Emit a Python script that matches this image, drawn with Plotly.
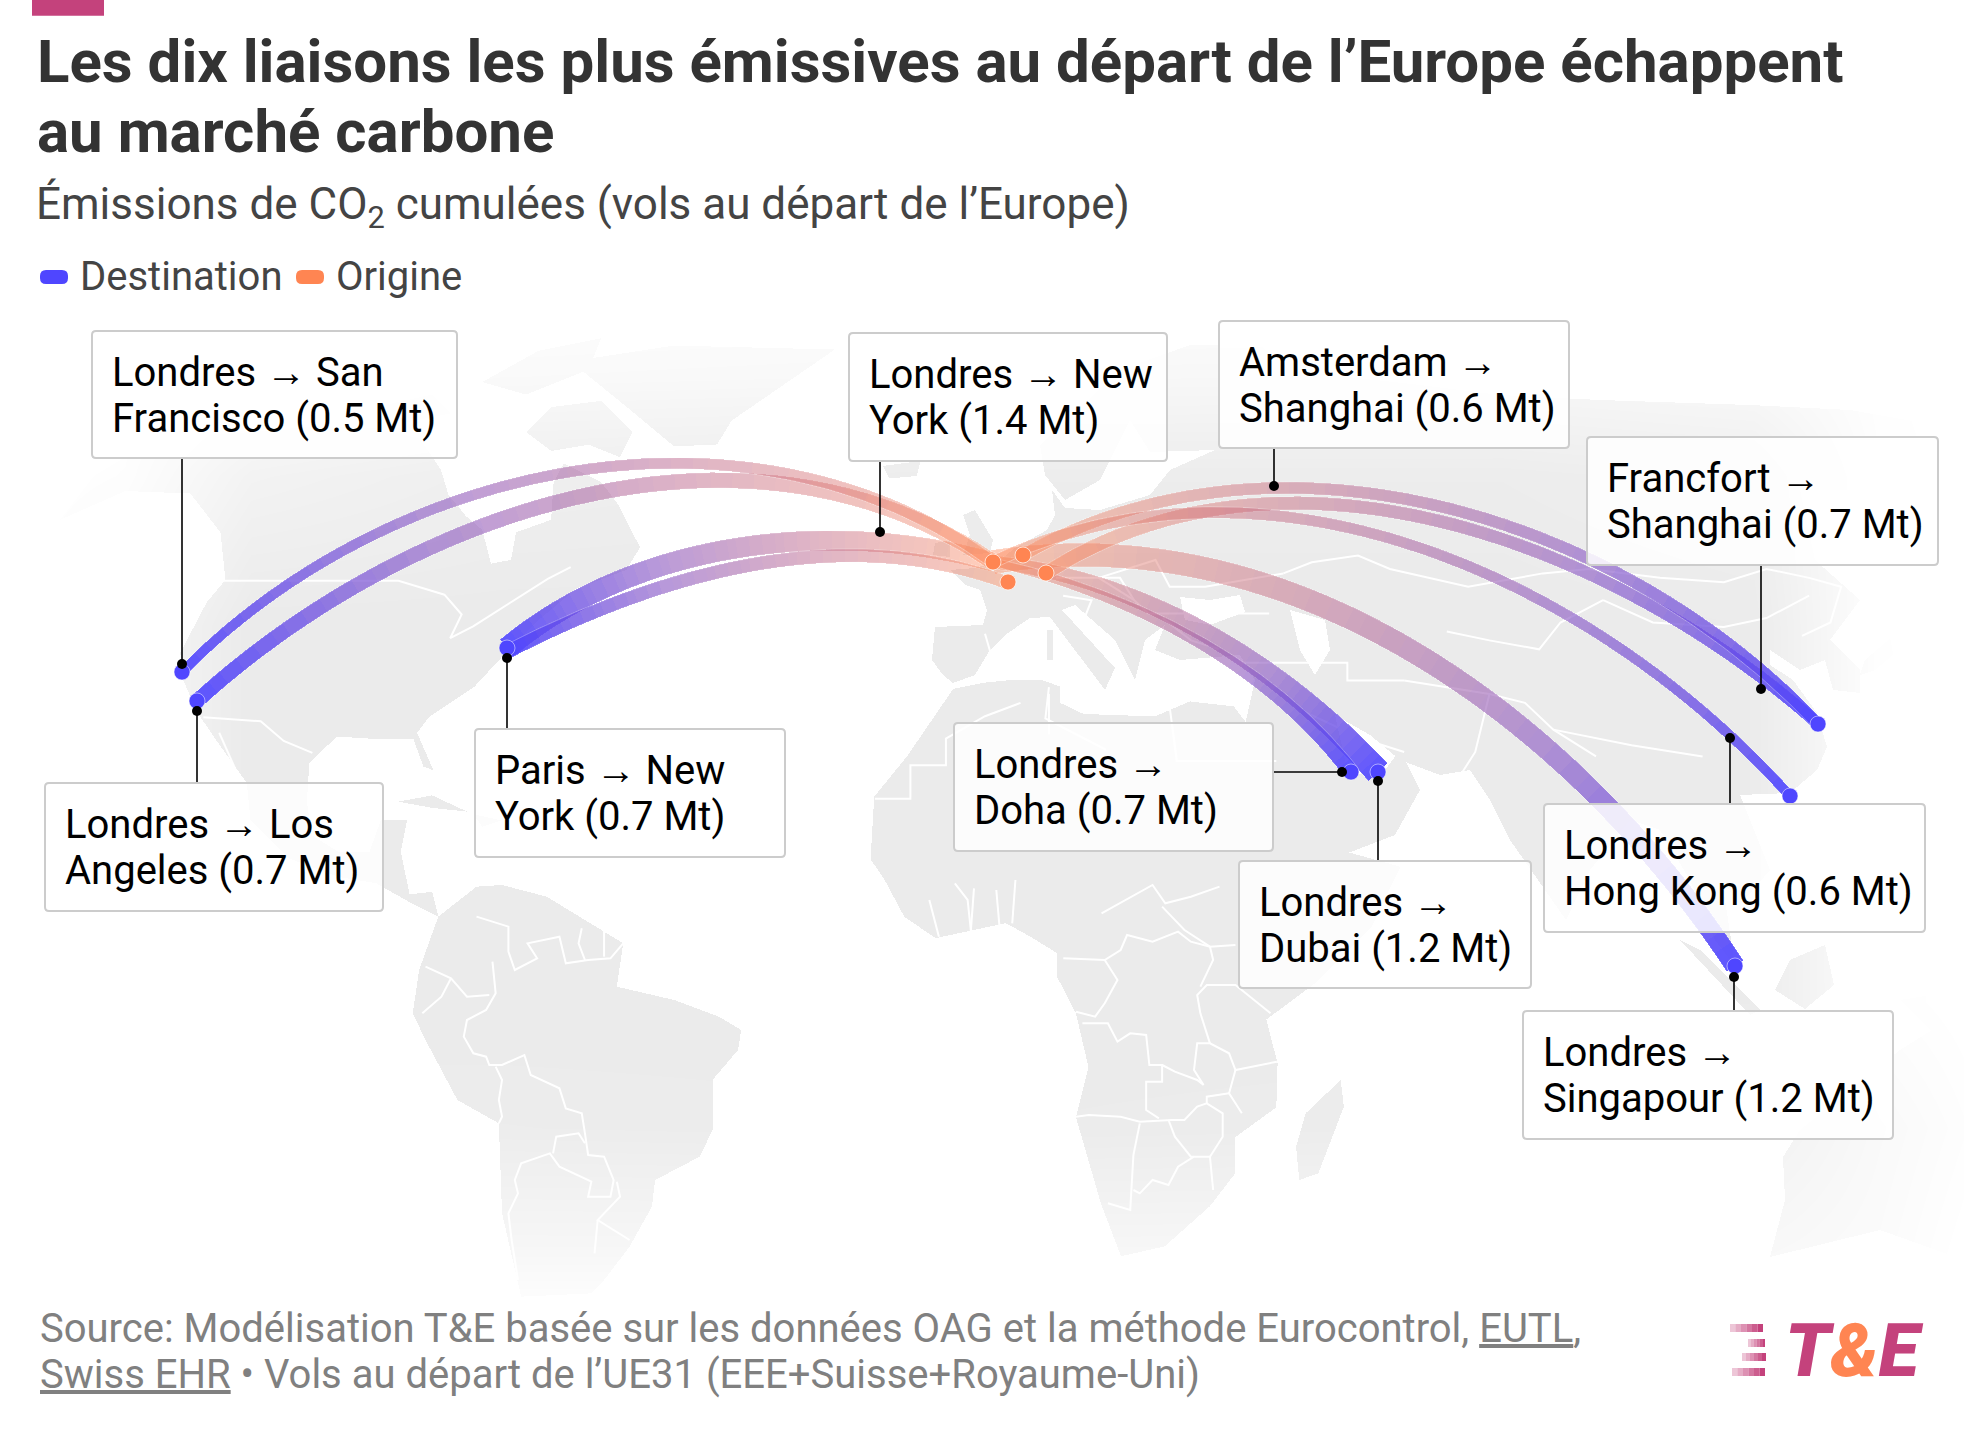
import numpy as np
import plotly.graph_objects as go

W, H = 1964, 1442
S = W / 1568.0

# ---------- data: routes (label lines, value in Mt, waypoints) ----------
route_names = ["Londres → Singapour", "Londres → Dubai", "Londres → New York", "Paris → New York",
               "Londres → Los Angeles", "Londres → Doha", "Francfort → Shanghai",
               "Amsterdam → Shanghai", "Londres → Hong Kong", "Londres → San Francisco"]
route_values = [1.2, 1.2, 1.4, 0.7, 0.7, 0.7, 0.7, 0.6, 0.6, 0.5]
path_singapour = [(993,562),(1060,553),(1113,555),(1205,571),(1305,600),(1397,640),(1489,698),(1596,801),(1735,966)]
path_dubai = [(993,562),(1063,574),(1113,590),(1213,638),(1313,708),(1378,772)]
path_new_york = [(993,562),(940,548),(877,541),(752,549),(626,578),(559,608),(507,648)]
path_paris_ny = [(1008,583),(940,566),(875,556),(752,562),(674,585),(559,628),(507,652)]
path_la = [(993,562),(932,523),(817,490),(703,482),(617,486),(502,520),(387,571),(272,638),(197,701)]
path_doha = [(993,562),(1063,580),(1113,600),(1213,653),(1313,725),(1351,772)]
path_fr_shanghai = [(1046,573),(1099,538),(1170,515),(1298,505),(1418,520),(1525,547),(1631,591),(1738,663),(1818,724)]
path_am_shanghai = [(1023,555),(1099,520),(1170,497),(1274,486),(1383,497),(1489,524),(1596,562),(1703,622),(1766,672),(1818,724)]
path_hk = [(993,562),(1063,532),(1134,520),(1219,514),(1347,524),(1454,560),(1560,614),(1667,680),(1730,738),(1790,796)]
path_sf = [(993,562),(914,520),(814,476),(701,463),(626,466),(501,488),(376,532),(250,614),(182,672)]
route_paths = [path_singapour, path_dubai, path_new_york, path_paris_ny, path_la, path_doha,
               path_fr_shanghai, path_am_shanghai, path_hk, path_sf]

origin_names = ["Londres", "Amsterdam", "Paris", "Francfort"]
origin_x = [993, 1023, 1008, 1046]
origin_y = [562, 555, 582, 573]
dest_names = ["San Francisco", "Los Angeles", "New York", "Doha", "Dubai", "Singapour", "Hong Kong", "Shanghai"]
dest_x = [182, 197, 507, 1351, 1378, 1735, 1790, 1818]
dest_y = [672, 701, 648, 772, 772, 966, 796, 724]

# ---------- label boxes (x0,y0,x1,y1), text lines, connector ends ----------
label_lines = [["Londres → San", "Francisco (0.5 Mt)"], ["Londres → Los", "Angeles (0.7 Mt)"],
               ["Paris → New", "York (0.7 Mt)"], ["Londres → New", "York (1.4 Mt)"],
               ["Amsterdam →", "Shanghai (0.6 Mt)"], ["Francfort →", "Shanghai (0.7 Mt)"],
               ["Londres →", "Doha (0.7 Mt)"], ["Londres →", "Dubai (1.2 Mt)"],
               ["Londres →", "Hong Kong (0.6 Mt)"], ["Londres →", "Singapour (1.2 Mt)"]]
label_boxes = [(92,331,457,458), (45,783,383,911), (475,729,785,857), (849,333,1167,461),
               (1219,321,1569,448), (1587,437,1938,565), (954,723,1273,851), (1239,861,1531,988),
               (1544,804,1925,932), (1523,1011,1893,1139)]
conn_start = [(182,458),(197,783),(507,729),(880,461),(1274,448),(1761,565),(1273,772),(1378,861),(1730,804),(1734,1011)]
conn_end = [(182,664),(197,711),(507,658),(880,532),(1274,486),(1761,689),(1342,772),(1378,781),(1730,738),(1734,977)]

# ---------- land, in picture-frame coordinates ----------
def D(p): return [(x*S, y*S) for x, y in p]                       # display frame
def Z2(p): return [(100+x/1.742, 310+y/2.529) for x, y in p]
def Z3(p): return [(850+x/1.4075, 310+y/2.24) for x, y in p]
def Z7(p): return [(400+x/1.568, 880+y/3.0) for x, y in p]

north_america = D([(48,415),(75,380),(105,362),(150,348),(200,345),(255,340),(300,342),(335,350),(352,375),(358,395),(372,412),(385,423),(392,450),(408,447),(412,425),(440,415),(442,385),(450,370),(480,385),(493,402),(511,437),(500,455),(460,470),(430,495),(404,521),(379,548),(343,572),(333,585),(346,615),(338,612),(330,590),(300,590),(269,588),(247,609),(245,640),(249,667),(270,680),(295,680),(304,655),(325,655),(320,680),(327,714),(345,712),(350,732),(330,722),(300,705),(270,700),(230,685),(200,655),(197,625),(172,590),(157,568),(145,540),(144,521),(165,481),(180,463),(176,425),(152,394),(100,392)])
south_america = Z7([(60,110),(120,20),(160,15),(230,50),(350,190),(340,320),(430,360),(500,410),(535,450),(530,510),(490,600),(490,750),(470,830),(400,900),(395,980),(360,1100),(320,1200),(300,1240),(190,1250),(160,1000),(155,730),(90,660),(40,480),(20,400),(30,270)])
africa = D([(698,636),(724,604),(761,550),(786,545),(806,543),(832,543),(846,548),(846,561),(865,570),(922,572),(950,560),(985,564),(1005,590),(1030,603),(1045,640),(1075,680),(1118,692),(1095,740),(1050,785),(1011,814),(1020,849),(1019,884),(986,908),(986,937),(966,963),(930,995),(895,1003),(879,961),(859,892),(869,852),(859,809),(844,780),(844,761),(823,748),(803,737),(747,749),(722,732),(706,702),(695,686)])
eurasia = [(935,627),(983,625),(987,610),(980,590),(965,585),(950,570),(975,568),(1000,560),(1015,548),(1047,530),(1055,515),(1052,490),(1065,508),(1100,510),(1150,495),(1170,470),(1215,450),(1150,452),(1130,420),(1100,480),(1065,500),(1045,475),(1040,445),(1120,370),(1190,345),(1260,345),(1290,370),(1330,375),(1420,385),(1500,395),(1600,400),(1750,405),(1850,410),(1964,430),(1964,470),(1900,480),(1890,530),(1860,490),(1800,490),(1815,560),(1860,600),(1830,640),(1860,670),(1860,693),(1833,690),(1825,660),(1800,670),(1770,650),(1770,665),(1793,680),(1817,713),(1827,747),(1817,770),(1790,793),(1740,795),(1770,870),(1740,905),(1722,880),(1735,966),(1715,940),(1690,880),(1660,830),(1630,820),(1590,870),(1566,920),(1510,840),(1490,800),(1470,770),(1440,775),(1400,760),(1370,735),(1335,715),(1345,760),(1350,775),(1385,770),(1400,750),(1420,790),(1395,835),(1330,860),(1300,870),(1285,800),(1245,725),(1255,680),(1240,655),(1180,660),(1155,650),(1165,625),(1145,640),(1135,680),(1115,640),(1075,605),(1062,610),(1115,668),(1105,690),(1050,617),(1030,618),(1008,633),(990,650),(975,675),(953,683),(943,675),(932,660)]
greenland = Z2([(820,130),(1000,90),(1280,100),(1100,280),(1075,340),(1000,345),(930,260)])
baffin = D([(420,345),(440,325),(480,320),(505,345),(495,365),(470,355),(440,360)])
ellesmere = D([(385,305),(430,280),(480,270),(470,295),(420,315)])
victoria = D([(300,325),(345,315),(360,330),(320,338)])
iceland = D([(705,372),(735,368),(732,380),(710,382)])
cuba = D([(318,640),(345,635),(373,648),(345,645)])
hispaniola = D([(378,650),(400,655),(385,660)])
britain = [(963,555),(990,553),(993,540),(975,510),(963,515),(970,535)]
ireland = [(933,555),(950,557),(950,540),(935,543)]
madagascar = Z7([(1475,600),(1480,680),(1440,880),(1410,900),(1405,800),(1420,700)])
japan = [(1915,590),(1930,610),(1905,645),(1875,670),(1860,675),(1865,660),(1900,630)]
sumatra = [(1680,940),(1700,950),(1760,1010),(1750,1015)]
borneo = [(1775,990),(1790,960),(1825,945),(1834,985),(1805,1009)]
new_guinea = [(1900,1000),(1964,990),(1964,1050),(1930,1030)]
australia = [(1783,1157),(1800,1130),(1850,1090),(1900,1050),(1964,1010),(1964,1260),(1880,1230),(1770,1257),(1785,1200)]
sardinia = [(1047,630),(1053,630),(1053,660),(1047,660)]
land_polygons = [north_america, south_america, africa, eurasia, greenland, baffin, ellesmere, victoria, iceland,
                 cuba, hispaniola, britain, ireland, madagascar, japan, sumatra, borneo, new_guinea, australia, sardinia]
water_polygons = [[(1180,597),(1210,600),(1240,595),(1245,612),(1210,625),(1185,620)],
                  [(1290,610),(1325,620),(1330,650),(1315,675),(1300,650)]]

borders = [
 Z7([(120,110),(170,140),(170,215),(180,270),(215,235),(200,190),(250,170),(260,250),(295,240),(330,235),(350,190)]),
 Z7([(145,245),(150,340),(135,390),(105,420),(100,470),(115,520),(135,530),(140,555),(160,555),(195,525),(205,585),(250,625),(260,685),(285,700),(290,760),(295,825),(320,830),(335,900),(330,950),(295,950),(300,905),(250,860),(235,820),(190,850),(180,900),(185,940),(170,1000),(175,1080),(185,1200)]),
 Z7([(40,260),(80,295),(105,350),(140,345)]), Z7([(80,295),(65,350),(35,400)]),
 Z7([(150,560),(160,600),(155,660),(160,710),(155,730)]), Z7([(240,820),(245,770),(280,760),(290,790)]),
 Z7([(340,905),(345,950),(310,1020),(360,1080)]), Z7([(310,1020),(305,1120)]),
 Z7([(285,145),(280,190),(290,240)]), Z7([(320,150),(320,230)]),
 Z7([(1060,710),(1080,705),(1130,710),(1160,725),(1210,720),(1230,720),(1250,680),(1265,670),(1290,700),(1290,770),(1270,830),(1240,830),(1215,770),(1205,720)]),
 Z7([(1160,730),(1150,825),(1145,990),(1110,970)]), Z7([(1150,930),(1160,940),(1180,900),(1205,915),(1220,860),(1245,830)]),
 Z7([(1270,830),(1275,930)]),
 Z7([(1070,430),(1110,430),(1125,485),(1145,460),(1170,465),(1175,555),(1195,555),(1195,605),(1170,605),(1170,690),(1190,715)]),
 Z7([(1195,555),(1215,575),(1250,600),(1260,615),(1245,570),(1250,490),(1270,490),(1300,520),(1310,570),(1375,545)]),
 Z7([(1270,490),(1255,400),(1250,345),(1265,315),(1310,315),(1350,375),(1365,400)]),
 Z7([(1040,235),(1105,240),(1130,210),(1140,165),(1180,185),(1220,155),(1240,185),(1270,200),(1310,195)]),
 Z7([(1105,240),(1125,300),(1105,370),(1090,410),(1060,395)]),
 Z7([(1100,100),(1180,15),(1200,70),(1240,50),(1285,20)]), Z7([(1195,80),(1230,150),(1270,200),(1275,240),(1255,320)]),
 Z7([(1300,640),(1265,650),(1265,670)]), Z7([(1310,570),(1300,640),(1320,700)]),
 Z7([(900,25),(895,155)]), Z7([(935,30),(940,140)]), Z7([(965,0),(960,130)]), Z7([(830,60),(845,170)]), Z7([(870,10),(890,60),(895,150)]),
 Z3([(35,1095),(85,1095),(85,1020),(135,1020),(135,960),(190,910),(240,880)]),
 Z3([(280,845),(275,915),(360,985)]), Z3([(450,890),(460,1010),(600,1010)]), Z3([(280,950),(280,860)]),
 Z3([(610,590),(650,565),(715,550),(760,580),(870,620),(975,590),(1040,580),(1140,600),(1230,610),(1290,580),(1350,600),(1395,620),(1380,700),(1340,730)]),
 Z3([(1060,650),(1130,700),(1230,710),(1290,690),(1350,640)]),
 Z3([(840,720),(900,740),(970,760),(1000,700),(1060,650)]),
 Z3([(780,830),(860,850),(900,860),(950,880),(990,940),(1050,1000)]), Z3([(900,860),(880,990),(860,1040)]),
 Z3([(990,940),(1100,975),(1200,1000)]), Z3([(640,900),(720,960),(780,990)]), Z3([(550,790),(700,790),(700,830),(780,830)]),
 Z3([(290,600),(380,600),(400,650),(420,680),(500,680),(590,680)]), Z3([(300,640),(340,650),(330,690)]),
 Z3([(400,650),(350,600),(430,560),(450,620),(500,620),(610,590)]), Z3([(190,725),(200,780)]), Z3([(440,690),(480,740),(520,760)]),
 Z2([(215,685),(520,685),(600,720),(630,770),(610,830),(650,800),(780,680),(820,650)]),
 Z2([(180,1030),(280,1040),(320,1090),(370,1120)]), D([(175,585),(195,630)]),
]

# fade of the map towards its edges (share of white laid on the land)
mask_x = [d*S for d in [0,100,200,400,800,1200,1400,1500,1568]]
mask_y = [d*S for d in [230,300,380,500,800,900,1000,1040,1151]]
mask_z = [[1,1,1,.95,.9,.9,.9,1,1],
          [1,.98,.9,.72,.65,.6,.7,.95,1],
          [1,.9,.4,.2,.1,.1,.2,.9,1],
          [1,.6,0,0,0,0,.05,.95,1],
          [1,.6,0,0,0,0,.05,.9,1],
          [1,.6,.1,.1,.05,.1,.3,.7,.9],
          [1,.9,.7,.6,.6,.6,.65,.78,1],
          [1,1,.95,.9,.9,.9,.9,.95,1],
          [1,1,1,1,1,1,1,1,1]]

# ---------- styles ----------
ORANGE, BLUE, MAGENTA = "#ff8552", "#4f46ff", "#c4427c"
FONT = 'Roboto, "Liberation Sans"'
route_w = {0:(24,20), 1:(13,26), 2:(19,22), 3:(13,14), 4:(16,15), 5:(8,16), 6:(14,12), 7:(12,12), 8:(12,10), 9:(12,10)}
stops = np.array([[255,133,82,.40],[190,95,125,.45],[140,90,195,.62],[79,70,255,.92]])

def color_at(t):
    p = t*(len(stops)-1)
    i = min(int(p), len(stops)-2)
    c = stops[i]+(stops[i+1]-stops[i])*(p-i)
    return f"rgba({c[0]:.0f},{c[1]:.0f},{c[2]:.0f},{c[3]:.3f})"

def bezier_fit(pts, n=120):
    """Smooth cubic Bezier through the read waypoints, ends pinned (least squares)."""
    P = np.array(pts, float)
    d = np.r_[0, np.cumsum(np.hypot(*np.diff(P, axis=0).T))]
    t = d/d[-1]
    b0, b1, b2, b3 = (1-t)**3, 3*t*(1-t)**2, 3*t*t*(1-t), t**3
    R = P-np.outer(b0, P[0])-np.outer(b3, P[-1])
    M = np.c_[b1, b2]
    C = np.linalg.lstsq(M, R, rcond=None)[0]
    u = np.linspace(0, 1, n)[:,None]
    return (1-u)**3*P[0]+3*u*(1-u)**2*C[0]+3*u*u*(1-u)*C[1]+u**3*P[-1]

fig = go.Figure()
noh = dict(hoverinfo="skip", showlegend=False)

for poly in land_polygons:
    xs, ys = zip(*poly)
    fig.add_trace(go.Scatter(x=list(xs)+[xs[0]], y=list(ys)+[ys[0]], mode="lines", fill="toself",
                             fillcolor="#ebebeb", line=dict(width=0, color="#ebebeb"), **noh))
for poly in water_polygons:
    xs, ys = zip(*poly)
    fig.add_trace(go.Scatter(x=list(xs)+[xs[0]], y=list(ys)+[ys[0]], mode="lines", fill="toself",
                             fillcolor="#ffffff", line=dict(width=0, color="#ffffff"), **noh))
bx, by = [], []
for b in borders:
    for x, y in b:
        bx.append(x); by.append(y)
    bx.append(None); by.append(None)
fig.add_trace(go.Scatter(x=bx, y=by, mode="lines", line=dict(color="white", width=2), **noh))

# everything below lies on the overlaying axes, so above the land
top = dict(xaxis="x2", yaxis="y2")
fig.add_trace(go.Heatmap(x=mask_x, y=mask_y, z=mask_z, zmin=0, zmax=1, zsmooth="best", showscale=False,
                         colorscale=[[0,"rgba(255,255,255,0)"],[1,"rgba(255,255,255,1)"]],
                         hoverinfo="skip", **top))

BANDS = 44
for k, pts in enumerate(route_paths):
    C = bezier_fit(pts)
    d = np.hypot(*np.diff(C, axis=0).T)
    s = np.r_[0, np.cumsum(d)]/d.sum()
    T = np.gradient(C, axis=0)
    Nn = np.c_[-T[:,1], T[:,0]]/np.hypot(T[:,0], T[:,1])[:,None]
    w0, w1 = route_w[k]
    hw = (w0+(w1-w0)*s)/2
    A, B = C+Nn*hw[:,None], C-Nn*hw[:,None]
    idx = np.linspace(0, len(C)-1, BANDS+1).round().astype(int)
    for a, b in zip(idx[:-1], idx[1:]):
        px = np.r_[A[a:b+1,0], B[a:b+1,0][::-1], A[a,0]]
        py = np.r_[A[a:b+1,1], B[a:b+1,1][::-1], A[a,1]]
        col = color_at((s[a]+s[b])/2)
        fig.add_trace(go.Scatter(x=px.tolist(), y=py.tolist(), mode="lines", fill="toself", fillcolor=col,
                                 line=dict(width=0, color=col), **noh, **top))
    ex = A[:,0].tolist()+[None]+B[:,0].tolist()
    ey = A[:,1].tolist()+[None]+B[:,1].tolist()
    fig.add_trace(go.Scatter(x=ex, y=ey, mode="lines", line=dict(color="rgba(255,255,255,.3)", width=1), **noh, **top))

fig.add_trace(go.Scatter(x=origin_x, y=origin_y, text=origin_names, mode="markers",
                         marker=dict(size=16, color=ORANGE, line=dict(color="rgba(255,255,255,.7)", width=1)), **noh, **top))
fig.add_trace(go.Scatter(x=dest_x, y=dest_y, text=dest_names, mode="markers",
                         marker=dict(size=16, color=BLUE, line=dict(color="rgba(255,255,255,.5)", width=1)), **noh, **top))
# connectors
cx, cy = [], []
for (x0, y0), (x1, y1) in zip(conn_start, conn_end):
    cx += [x0, x1, None]; cy += [y0, y1, None]
fig.add_trace(go.Scatter(x=cx, y=cy, mode="lines", line=dict(color="black", width=1.6), **noh, **top))
fig.add_trace(go.Scatter(x=[p[0] for p in conn_end], y=[p[1] for p in conn_end], mode="markers",
                         marker=dict(size=10, color="black"), **noh, **top))

# ---------- shapes ----------
def rrect(x0, y0, x1, y1, r):
    return (f"M{x0+r},{y0} L{x1-r},{y0} Q{x1},{y0} {x1},{y0+r} L{x1},{y1-r} Q{x1},{y1} {x1-r},{y1} "
            f"L{x0+r},{y1} Q{x0},{y1} {x0},{y1-r} L{x0},{y0+r} Q{x0},{y0} {x0+r},{y0} Z")

shapes = [dict(type="rect", x0=32, x1=104, y0=0, y1=15.7, fillcolor=MAGENTA, line_width=0, xref="x", yref="y"),
          dict(type="path", path=rrect(40,270,68,284,6), fillcolor=BLUE, line_width=0, xref="x", yref="y"),
          dict(type="path", path=rrect(296,270,324,284,6), fillcolor=ORANGE, line_width=0, xref="x", yref="y")]
for x0, y0, x1, y1 in label_boxes:
    shapes.append(dict(type="path", path=rrect(x0, y0, x1, y1, 4), fillcolor="rgba(255,255,255,.85)",
                       line=dict(color="#cccccc", width=2), xref="x", yref="y", layer="above"))
# logo stripes, fading leftwards
stripes = [(1730,1763,1324,1332),(1748,1765,1339,1347),(1742,1766,1353,1361),(1732,1765,1368,1376)]
for x0, x1, y0, y1 in stripes:
    for j in range(6):
        a = x0+(x1-x0)*j/6; b = x0+(x1-x0)*(j+1)/6
        shapes.append(dict(type="rect", x0=a, x1=b, y0=y0, y1=y1, fillcolor=MAGENTA, opacity=.3+.7*j/5,
                           line_width=0, xref="x", yref="y"))

# ---------- text ----------
def note(x, y, text, size, color, **kw):
    return dict(x=x, y=y, xref="x", yref="y", text=text, showarrow=False, xanchor=kw.pop("xanchor","left"),
                yanchor="middle", align="left", font=dict(family=FONT, size=size, color=color, **kw))

notes = [
    note(34.5, 61, "<b>Les dix liaisons les plus émissives au départ de l’Europe échappent</b>", 60, "#333333"),
    note(34.5, 131, "<b>au marché carbone</b>", 60, "#333333"),
    note(34, 207, "Émissions de CO<sub>2</sub> cumulées (vols au départ de l’Europe)", 44, "#444444"),
    note(78, 276, "Destination", 40, "#444444"),
    note(334, 276, "Origine", 40, "#444444"),
    note(38, 1328, "Source: Modélisation T&amp;E basée sur les données OAG et la méthode Eurocontrol, <u>EUTL</u>,", 40, "#808080"),
    note(38, 1374, "<u>Swiss EHR</u> • Vols au départ de l’UE31 (EEE+Suisse+Royaume-Uni)", 40, "#808080"),
    note(1783, 1350, f'<i>T<span style="color:{ORANGE}">&amp;</span>E</i>', 74, MAGENTA, weight=900),
]
for lines, (x0, y0, x1, y1) in zip(label_lines, label_boxes):
    notes.append(note(x0+18, y0+41, lines[0], 40, "#000000"))
    notes.append(note(x0+18, y0+87, lines[1], 40, "#000000"))

ax = dict(range=[0, W], visible=False, fixedrange=True)
ay = dict(range=[H, 0], visible=False, fixedrange=True)
fig.update_layout(width=W, height=H, margin=dict(l=0, r=0, t=0, b=0), paper_bgcolor="white", plot_bgcolor="rgba(0,0,0,0)",
                  xaxis=ax, yaxis=ay,
                  xaxis2=dict(ax, overlaying="x"),
                  yaxis2=dict(ay, overlaying="y"),
                  showlegend=False, shapes=shapes, annotations=notes, font=dict(family=FONT))

fig.write_html("out.html", config=dict(displayModeBar=False),
               post_script="document.body.style.margin='0';document.documentElement.style.overflow='hidden';"
                           "document.querySelectorAll('.js-fill').forEach(function(p){p.style.shapeRendering='crispEdges';});")
